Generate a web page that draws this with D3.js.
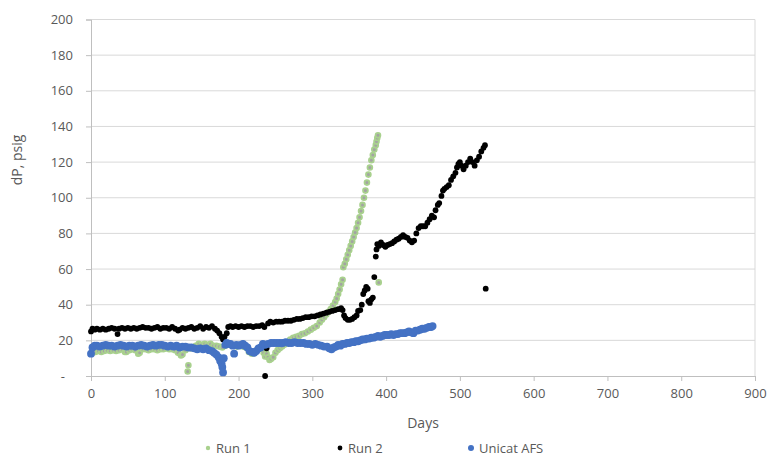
<!DOCTYPE html>
<html>
<head>
<meta charset="utf-8">
<script src="https://cdn.jsdelivr.net/npm/d3@7/dist/d3.min.js"></script>
<style>
  html, body { margin: 0; padding: 0; background: #fff; }
  svg { display: block; font-family: "Open Sans", sans-serif; }
</style>
</head>
<body>
<svg id="chart" width="768" height="456"></svg>
<script>
// Axis ticks
const xTicks = [0, 100, 200, 300, 400, 500, 600, 700, 800, 900];
const yTicks = [0, 20, 40, 60, 80, 100, 120, 140, 160, 180, 200];

// Series: [day, dP psig]
const run1 = [
  [2,13],[6,13.5],[10,14],[14,13.5],[18,14],[22,14.5],[26,14],[30,14.5],[34,14],[38,14.5],
  [42,15],[46,13.5],[48,13.5],[52,14.5],[56,15],[60,14.5],[64,12.5],[66,13],[70,15],[74,15],
  [78,14.5],[82,15],[86,15],[90,14.5],[94,15],[98,15],[102,15.5],[106,15],[110,15],[114,14.5],
  [118,13],[122,11.5],[124,12],[128,14.5],[131,2.5],[132,6],[135,15.5],[138,16],[142,17],[146,18],
  [150,17.5],[154,18],[158,17.5],[162,18],[166,17],[170,17],[174,16.5],[178,16],[182,17],[186,18],
  [190,17.5],[194,17],[198,16.5],[202,17],[206,16.5],[210,16],[214,13.5],[218,12.5],[222,13],[226,15],
  [230,16],[234,13],[236,11],[238,12.5],[240,10.5],[242,9],[244,9.5],[247,10.5],[250,13],[253,14.5],
  [256,15.5],[259,16.5],[262,17.5],[266,19],[270,20.5],[274,21.5],[278,22],[282,22.5],[286,23.5],[290,24],
  [294,25],[298,26],[302,27],[306,28],[310,30],[313,31.5],[316,33],[319,34.5],[322,36],[325,37.5],
  [328,39.5],[331,41.5],[333,43.5],[335,46],[337,48.5],[339,51.5],[341,54],[342,61],[344,63],[346,65.5],
  [348,68],[350,70.5],[352,73],[354,75.5],[356,78],[358,80.5],[360,83],[362,86],[364,89],[366,92.5],
  [368,96],[370,100],[372,104],[374,108.5],[376,113],[378,117],[380,121],[382,124],[384,127],[386,129.5],
  [387,131.5],[388,133.5],[389,135],[390,52.5]
];

const run2 = [
  [0,25],[2,26.5],[5,26],[8,26.5],[12,26],[16,26.5],[20,26],[24,26.5],[28,27],[32,26.5],
  [36,23.5],[38,26.5],[42,27],[46,26.5],[50,27],[54,26.5],[58,27],[62,26.5],[66,27],[70,27.5],
  [74,27],[78,27],[82,26.5],[86,27],[90,27.5],[94,26.5],[98,27],[102,27],[106,26.5],[110,27.5],
  [114,26.5],[118,25.5],[120,26],[124,27],[128,26.5],[132,27],[136,27.5],[140,26.5],[144,27],[148,28],
  [152,26.5],[156,27.5],[160,27],[164,28],[168,26.5],[171,25.5],[174,24],[177,22],[179,20.5],[181,22],
  [184,24],[186,27.5],[189,28],[192,27.5],[196,28],[200,27.5],[204,28],[208,27.5],[212,28],[216,28],
  [220,27.5],[224,28],[228,28],[232,28.5],[235,27.5],[236,0],[238,15.5],[240,29.5],[243,30.5],[247,30],
  [251,30.5],[255,30.5],[259,30.5],[263,31],[267,31],[271,31],[275,31.5],[279,32],[283,32],[287,32.5],
  [291,33],[295,33],[299,33.5],[303,33.5],[307,34],[311,34.5],[315,35],[319,35.5],[323,36],[327,36.5],
  [331,37],[335,37.5],[339,38],[341,37],[343,34],[345,32.5],[348,31.5],[351,31.5],[354,32],[357,33],
  [360,34],[362,36.5],[365,37],[367,40],[369,46],[371,48],[373,50],[375,49],[376,42],[378,41],
  [380,43],[382,44],[384,55.5],[386,67],[387,71],[388,74],[390,73],[393,75],[396,73.5],[399,72.5],
  [402,73.5],[405,74],[408,74.5],[411,75.5],[414,76.5],[417,77],[420,78],[423,79],[426,78],[429,77.5],
  [432,76],[435,75],[438,76],[441,80],[444,83],[447,84],[450,84],[453,84],[456,86],[459,88],
  [462,90],[465,89],[467,93],[470,96],[472,97],[475,101],[477,104],[479,105],[482,106],[485,107],
  [488,110],[491,112],[494,114],[496,117],[498,119],[500,120],[502,118],[505,116],[508,118],[511,120],
  [514,122],[517,120],[520,118],[523,121],[526,123],[529,126],[532,128],[534,129.5],[535,49]
];

const unicat = [
  [0,12.5],[2,16],[5,17],[8,17],[12,16.5],[16,17],[20,17.5],[24,17],[28,17],[32,16.5],
  [36,17],[40,17.5],[44,17],[48,16.5],[52,17],[56,17],[60,16.5],[64,17],[68,17.5],[72,17],
  [76,16.5],[80,17],[84,17.5],[88,17],[92,17.5],[96,17.5],[100,17],[104,16.5],[108,17],[112,16.5],
  [116,17],[120,16],[124,16.5],[128,16.5],[132,16],[136,16],[140,15.5],[144,15],[148,15.5],[152,15],
  [156,15.5],[160,14.5],[164,14],[167,13],[170,12],[173,10.5],[175,8.5],[177,7],[178,5],[179,2],
  [180,10],[182,17.5],[184,18.5],[186,18],[189,18],[192,17],[194,12.5],[197,17.5],[200,17],[203,17.5],
  [206,18],[209,17],[212,16],[215,14],[218,13.5],[221,13],[224,14],[227,15.5],[230,16],[233,18],
  [236,17.5],[240,18],[244,18.5],[248,18.5],[252,18.5],[256,18.5],[260,18.5],[264,19],[268,18.5],[272,18.5],
  [276,19],[280,18.5],[284,18.5],[288,18.5],[292,18],[296,18],[300,17.5],[304,18],[308,17.5],[312,17],
  [316,16.5],[320,16.5],[323,15.5],[326,15],[329,16],[332,16.5],[335,17.5],[338,17],[341,18],[344,18],
  [347,18.5],[350,18.5],[353,19],[356,19],[359,19.5],[362,19.5],[365,20],[368,20.5],[371,20.5],[374,21],
  [377,21],[380,21.5],[383,21.5],[386,22],[389,22.5],[392,22],[395,22.5],[398,23],[401,23],[404,23],
  [407,23.5],[410,23],[413,23.5],[416,23.5],[419,24],[422,24],[425,24],[428,24.5],[431,25],[434,24.5],
  [437,24],[440,25.5],[443,25.5],[446,26],[449,26.5],[452,26.5],[455,27],[458,27.5],[461,27.5],[463,28]
];

const svg = d3.select("#chart");
const x = d3.scaleLinear().domain([0, 900]).range([91, 755]);
const y = d3.scaleLinear().domain([0, 200]).range([376, 19.5]);
const textColor = "#595959";

// Horizontal gridlines
svg.append("g")
  .selectAll("line")
  .data(yTicks.filter(t => t > 0))
  .join("line")
  .attr("x1", x(0)).attr("x2", x(900))
  .attr("y1", d => y(d)).attr("y2", d => y(d))
  .attr("stroke", "#d9d9d9").attr("stroke-width", 1);

// Right plot edge
svg.append("line")
  .attr("x1", x(900)).attr("x2", x(900))
  .attr("y1", y(200)).attr("y2", y(0))
  .attr("stroke", "#d9d9d9").attr("stroke-width", 1);

// Y axis
const yAxis = d3.axisLeft(y)
  .tickValues(yTicks)
  .tickSize(5)
  .tickPadding(13)
  .tickFormat(d => d === 0 ? "-" : d);
const gy = svg.append("g").attr("transform", `translate(${x(0)},0)`).call(yAxis);
gy.select(".domain").attr("stroke", "#bfbfbf");
gy.selectAll(".tick line").attr("stroke", "#bfbfbf");
gy.selectAll(".tick text")
  .attr("fill", textColor)
  .style("font-size", "13px")
  .style("font-family", "'Open Sans', sans-serif")
  .attr("dx", d => d === 0 ? -8 : 0);

// X axis
const xAxis = d3.axisBottom(x)
  .tickValues(xTicks)
  .tickSize(5)
  .tickPadding(8);
const gx = svg.append("g").attr("transform", `translate(0,${y(0)})`).call(xAxis);
gx.select(".domain").attr("stroke", "#bfbfbf");
gx.selectAll(".tick line").attr("stroke", "#bfbfbf");
gx.selectAll(".tick text")
  .attr("fill", textColor)
  .style("font-size", "13px")
  .style("font-family", "'Open Sans', sans-serif");

// Axis titles
svg.append("text")
  .attr("x", 423).attr("y", 428)
  .attr("text-anchor", "middle")
  .attr("fill", textColor)
  .style("font-size", "14px")
  .text("Days");

svg.append("text")
  .attr("transform", "translate(22,160) rotate(-90)")
  .attr("text-anchor", "middle")
  .attr("fill", textColor)
  .style("font-size", "14px")
  .text("dP, psig");

// Scatter series
const series = [
  { name: "Run 1", data: run1, r: 2.4, fill: "#a3a3a3", stroke: "#a9d18e", sw: 1.8 },
  { name: "Run 2", data: run2, r: 2.9, fill: "#000000", stroke: "none", sw: 0 },
  { name: "Unicat AFS", data: unicat, r: 3.9, fill: "#4472c4", stroke: "none", sw: 0 }
];

series.forEach(s => {
  svg.append("g")
    .selectAll("circle")
    .data(s.data)
    .join("circle")
    .attr("cx", d => x(d[0]))
    .attr("cy", d => y(d[1]))
    .attr("r", s.r)
    .attr("fill", s.fill)
    .attr("stroke", s.stroke)
    .attr("stroke-width", s.sw);
});

// Legend
const legendPos = [208, 340, 471];
const legendR = [2.2, 2.4, 3];
const legend = svg.append("g");
series.forEach((s, i) => {
  legend.append("circle")
    .attr("cx", legendPos[i]).attr("cy", 448)
    .attr("r", legendR[i])
    .attr("fill", i === 0 ? "#a9d18e" : s.fill);
  legend.append("text")
    .attr("x", legendPos[i] + 8).attr("y", 452.5)
    .attr("fill", textColor)
    .style("font-size", "13px")
    .text(s.name);
});
</script>
</body>
</html>
